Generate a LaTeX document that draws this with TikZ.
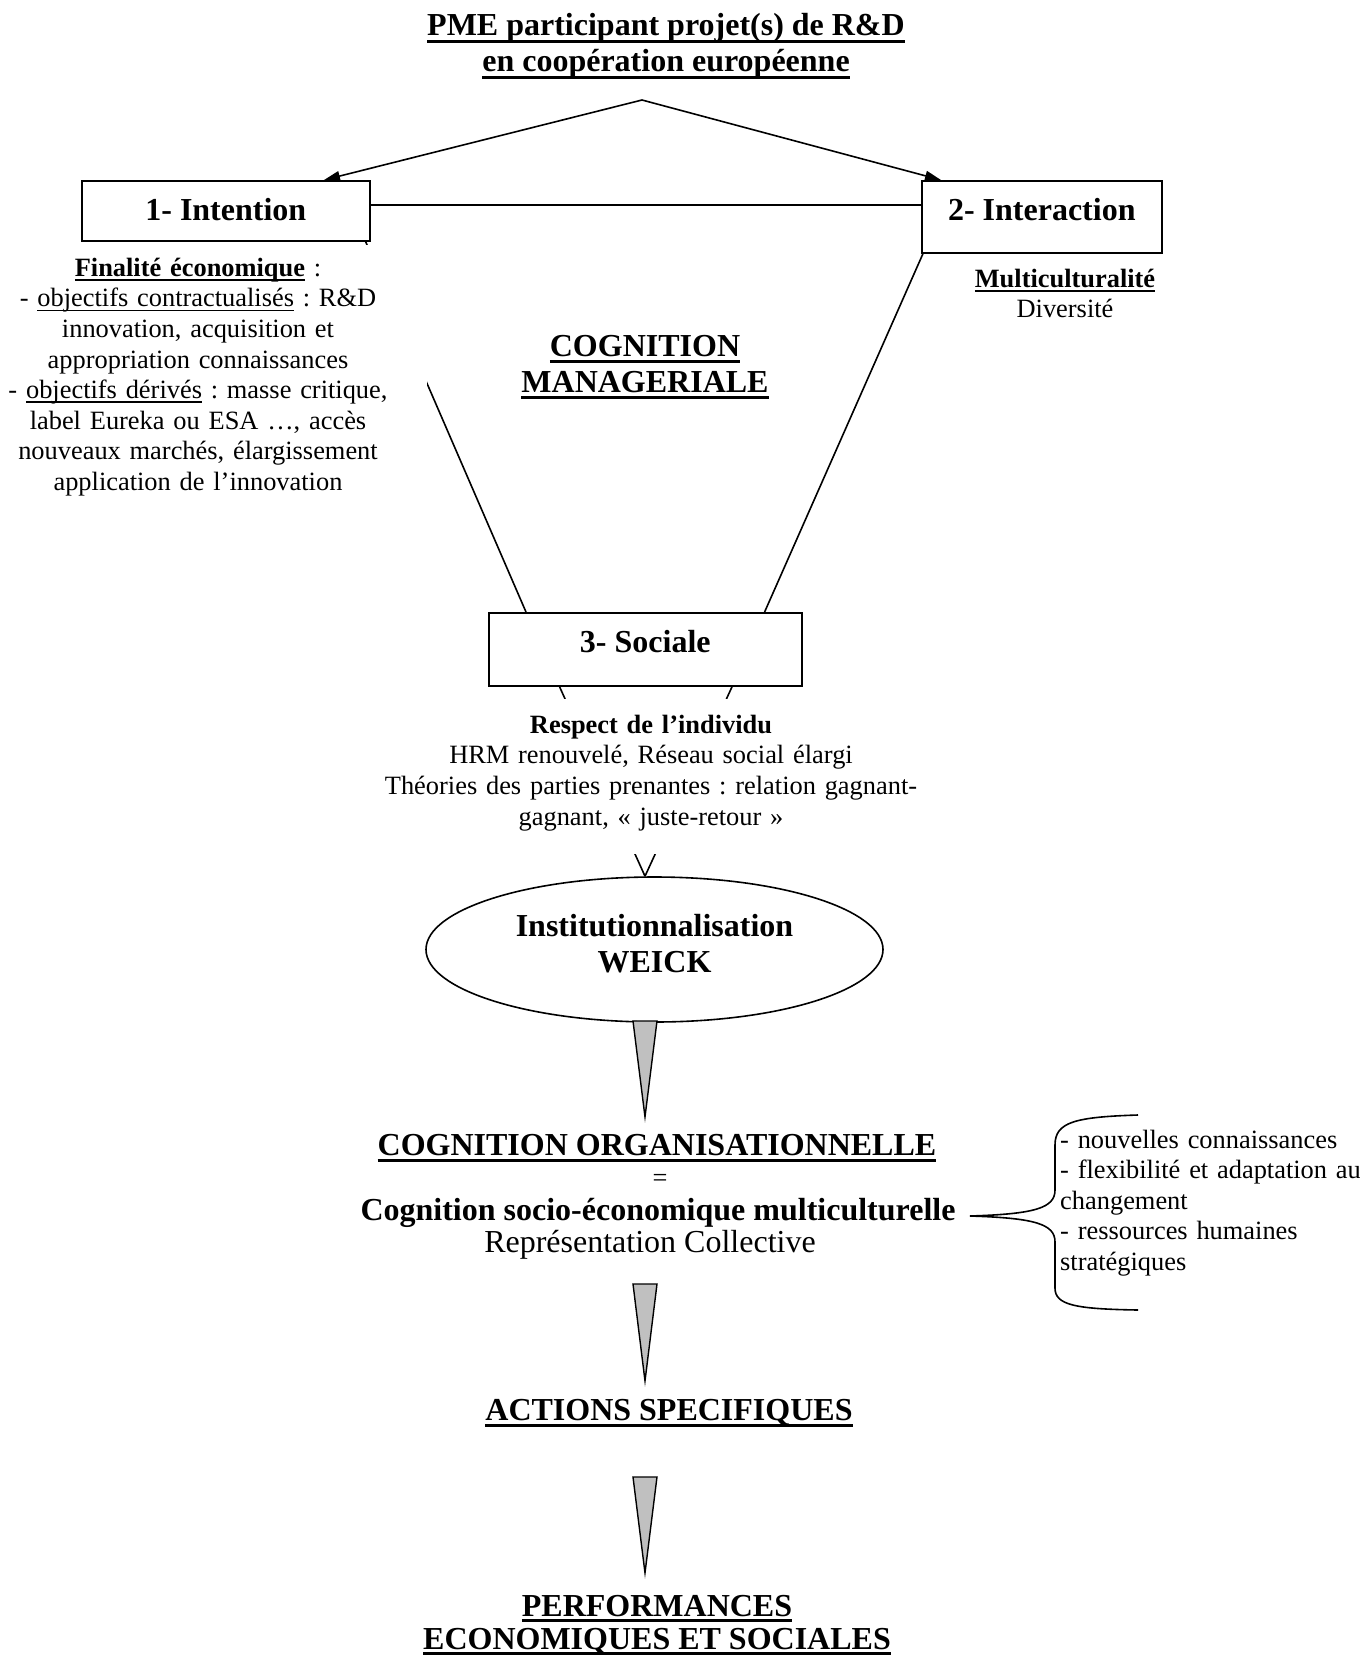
\documentclass[tikz,border=0pt]{standalone}
\usepackage{fontspec}
\setmainfont{Liberation Serif}[Ligatures=NoCommon]
\usetikzlibrary{arrows.meta,shapes.geometric}

% underline drawn as a rule: #1 drop below baseline, #2 thickness, #3 text
\newsavebox\ulinebox
\newcommand{\ulbar}[3]{\sbox\ulinebox{#3}\leavevmode\rlap{\rule[-#1]{\wd\ulinebox}{#2}}\usebox\ulinebox}
\newcommand{\fbody}{\fontsize{26.4}{30.6}\selectfont}
\newcommand{\fbig}{\fontsize{32}{36}\selectfont}

\definecolor{wedgegray}{RGB}{192,192,192}

\tikzset{
  link/.style={line width=1.6pt},
  stagebox/.style={draw, line width=1.6pt, inner xsep=0pt, inner ysep=19pt,
    text height=21pt, font={\fbig\bfseries}, anchor=north west},
  lbl/.style={inner sep=0pt, anchor=base},
  bigb/.style={lbl, font={\fbig\bfseries}},
  wedge/.style={draw, fill=wedgegray, line width=1.4pt, line join=miter},
  tip/.style={-{Triangle[length=16pt,width=10pt]}},
}

\begin{document}
\frenchspacing
\begin{tikzpicture}[x=1pt, y=-1pt]
\useasboundingbox (0,0) rectangle (1360,1655);

% title
\node[bigb] (t1) at (666,35) {\ulbar{8pt}{3pt}{PME participant projet(s) de R\&D}};
\node[bigb] (t2) at (666,71) {\ulbar{8pt}{3pt}{en coopération européenne}};

% the three dimensions
\node[stagebox, minimum width=288pt, text depth=1pt]  (box1) at (81,180)  {1- Intention};
\node[stagebox, minimum width=240pt, text depth=13pt] (box2) at (921,180) {2- Interaction};
\node[stagebox, minimum width=313pt, text depth=14pt] (soc)  at (488,612) {3- Sociale};

\node[draw, ellipse, line width=1.6pt, minimum width=457pt, minimum height=145pt,
      inner sep=0pt, text width=300pt, align=center, text height=21pt, text depth=48pt,
      font={\fbig\bfseries}] (ell) at (654.5,949.5) {Institutionnalisation\\WEICK};

% connectors
\coordinate (apex) at (642,100);
\draw[link, tip] (apex) -- ([xshift=243pt]box1.north west);
\draw[link, tip] (apex) -- ([xshift=20pt]box2.north west);
\coordinate (hl) at ([yshift=6pt]box1.east);
\draw[link] (hl) -- (hl -| box2.west);
\draw[link] ([xshift=-5pt]box1.south east) -- ([xshift=38pt]soc.north west);
\draw[link] ([xshift=2pt]box2.south west) -- ([xshift=-38pt]soc.north east);
\coordinate (vtip) at ([xshift=-9.5pt]ell.north);
\draw[link] ([xshift=71.5pt]soc.south west) -- (vtip);
\draw[link] ([xshift=-70.5pt]soc.south east) -- (vtip);

% texts on white backgrounds
\node[fill=white, text width=400pt, align=center, inner xsep=29pt, inner ysep=12pt,
      text height=19pt, text depth=222pt, anchor=north, font=\fbody] (fin) at (198,245)
  {\ulbar{5pt}{2.5pt}{\bfseries Finalité économique} :\\
   - \ulbar{4.5pt}{1.8pt}{objectifs contractualisés} : R\&D\\
   innovation, acquisition et\\
   appropriation connaissances\\
   - \ulbar{4.5pt}{1.8pt}{objectifs dérivés} : masse critique,\\
   label Eureka ou ESA …, accès\\
   nouveaux marchés, élargissement\\
   application de l’innovation};

\node[fill=white, text width=580pt, align=center, inner xsep=0pt, inner ysep=16pt,
      text height=18pt, text depth=105pt, anchor=north, font=\fbody] (resp) at (651,699)
  {\textbf{Respect de l’individu}\\
   HRM renouvelé, Réseau social élargi\\
   Théories des parties prenantes : relation gagnant-\\
   gagnant, « juste-retour »};

\node[lbl, font=\fbody] (multi) at (1065,287) {\ulbar{5pt}{2.5pt}{\bfseries Multiculturalité}};
\node[lbl, font=\fbody] (div) at (1065,317) {Diversité};

\node[bigb] (cm1) at (645,356) {\ulbar{7pt}{3pt}{COGNITION}};
\node[bigb] (cm2) at (645,392) {\ulbar{7pt}{3pt}{MANAGERIALE}};

% lower chain
\node[bigb] (cogorg) at (657,1155) {\ulbar{7pt}{3pt}{COGNITION ORGANISATIONNELLE}};
\node[lbl, font=\fbody] (eq) at (660,1186) {=};
\node[bigb] (socio) at (658,1220) {Cognition socio-économique multiculturelle};
\node[lbl, font=\fbig] (repr) at (650,1252) {Représentation Collective};
\node[bigb] (act) at (669,1420) {\ulbar{7pt}{3pt}{ACTIONS SPECIFIQUES}};
\node[bigb] (perf1) at (657,1616) {\ulbar{6pt}{3pt}{PERFORMANCES}};
\node[bigb] (perf2) at (657,1649) {\ulbar{6pt}{3pt}{ECONOMIQUES ET SOCIALES}};

% grey wedge arrows
\coordinate (w1) at (645,1021);
\draw[wedge] ([xshift=-12pt]w1) -- ([xshift=12pt]w1) -- ([yshift=-96pt]w1) -- cycle;
\coordinate (w2) at (645,1284);
\draw[wedge] ([xshift=-12pt]w2) -- ([xshift=12pt]w2) -- ([yshift=-97pt]w2) -- cycle;
\coordinate (w3) at (645,1477);
\draw[wedge] ([xshift=-12pt]w3) -- ([xshift=12pt]w3) -- ([yshift=-96pt]w3) -- cycle;

% brace and its list
\draw[link] (1138,1115) .. controls (1075,1117) and (1055,1122) .. (1055,1145)
  -- (1055,1190) .. controls (1055,1208) and (1035,1214) .. (970,1216)
  .. controls (1035,1218) and (1055,1224) .. (1055,1242)
  -- (1055,1288) .. controls (1055,1305) and (1075,1309) .. (1138,1310);
\node[inner sep=0pt, anchor=base west, text width=301pt, align=left, font=\fbody] (list) at (1060,1148)
  {- nouvelles connaissances\\
   - flexibilité et adaptation au\\
   changement\\
   - ressources humaines\\
   stratégiques};
\end{tikzpicture}
\end{document}
